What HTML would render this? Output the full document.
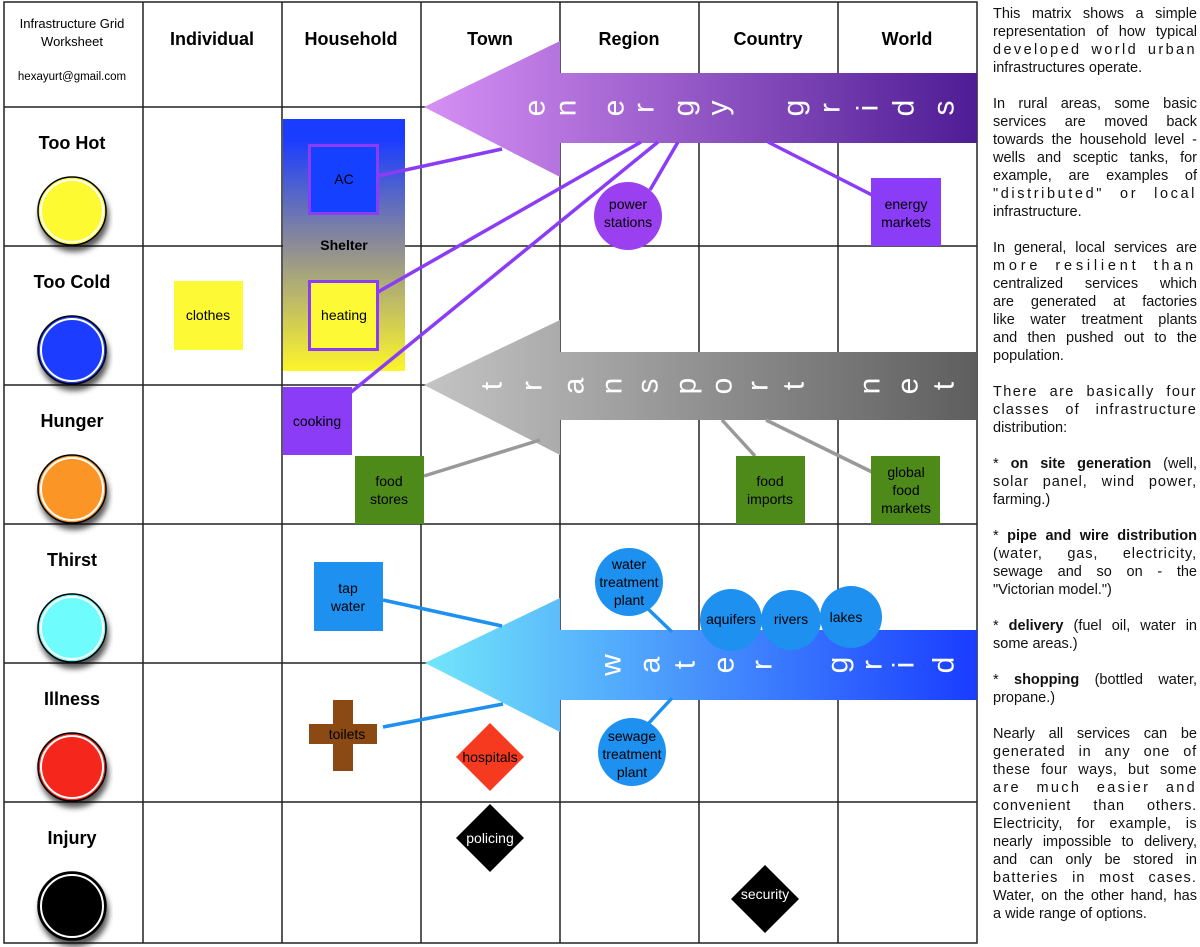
<!DOCTYPE html>
<html><head><meta charset="utf-8"><style>
body{margin:0;width:1200px;height:947px;background:#fff;overflow:hidden;position:relative;font-family:"Liberation Sans",Arial,sans-serif}
svg{position:absolute;left:0;top:0}
#txt{position:absolute;left:993px;top:5px;width:204px;font-size:14.5px;line-height:18px;color:#111}
#txt div{text-align:justify;text-align-last:justify;white-space:nowrap;height:18px}
#txt div.l{text-align-last:left}
#txt .g{height:18px}
</style></head><body>
<svg width="1200" height="947" viewBox="0 0 1200 947" font-family="Liberation Sans, Arial, sans-serif">
<defs>
<linearGradient id="eg" x1="0" x2="1"><stop offset="0" stop-color="#d690f5"/><stop offset="1" stop-color="#4e1c94"/></linearGradient>
<linearGradient id="tg" x1="0" x2="1"><stop offset="0" stop-color="#c4c4c4"/><stop offset="1" stop-color="#5e5e5e"/></linearGradient>
<linearGradient id="wg" x1="0" x2="1"><stop offset="0" stop-color="#72e6fa"/><stop offset="1" stop-color="#1a3cff"/></linearGradient>
<linearGradient id="sg" x1="0" y1="0" x2="0" y2="1"><stop offset="0.08" stop-color="#1a3cff"/><stop offset="0.5" stop-color="#8c8c96"/><stop offset="1" stop-color="#fcf52a"/></linearGradient>
<filter id="sh"><feDropShadow dx="2" dy="6" stdDeviation="3" flood-color="#000" flood-opacity="0.65"/></filter>
</defs>
<g stroke="#222" stroke-width="1.5" fill="none">
<rect x="4" y="2" width="973" height="941"/>
<line x1="143" y1="2" x2="143" y2="943"/><line x1="282" y1="2" x2="282" y2="943"/><line x1="421" y1="2" x2="421" y2="943"/><line x1="560" y1="2" x2="560" y2="943"/><line x1="699" y1="2" x2="699" y2="943"/><line x1="838" y1="2" x2="838" y2="943"/>
<line x1="4" y1="107" x2="977" y2="107"/><line x1="4" y1="246" x2="977" y2="246"/><line x1="4" y1="385" x2="977" y2="385"/><line x1="4" y1="524" x2="977" y2="524"/><line x1="4" y1="663" x2="977" y2="663"/><line x1="4" y1="802" x2="977" y2="802"/>
</g>
<g text-anchor="middle" font-weight="bold" font-size="18" fill="#000">
<text x="212" y="45">Individual</text><text x="351" y="45">Household</text><text x="490" y="45">Town</text><text x="629" y="45">Region</text><text x="768" y="45">Country</text><text x="907" y="45">World</text>
<text x="72" y="149">Too Hot</text><text x="72" y="288">Too Cold</text><text x="72" y="427">Hunger</text><text x="72" y="566">Thirst</text><text x="72" y="705">Illness</text><text x="72" y="844">Injury</text>
</g>
<g text-anchor="middle" font-size="13"><text x="72" y="28">Infrastructure Grid</text><text x="72" y="46">Worksheet</text><text x="72" y="80" font-size="11.5">hexayurt@gmail.com</text></g>
<g stroke="#000" stroke-width="1.5" filter="url(#sh)">
<circle cx="72" cy="211" r="34" fill="#fdfa30"/><circle cx="72" cy="350" r="34" fill="#1a3cff"/><circle cx="72" cy="489" r="34" fill="#fb9528"/><circle cx="72" cy="628" r="34" fill="#6efcfc"/><circle cx="72" cy="767" r="34" fill="#f5271a"/><circle cx="72" cy="906" r="34" fill="#000"/>
</g>
<g fill="none" stroke="#fff" stroke-width="2"><circle cx="72" cy="211" r="31"/><circle cx="72" cy="350" r="31"/><circle cx="72" cy="489" r="31"/><circle cx="72" cy="628" r="31"/><circle cx="72" cy="767" r="31"/><circle cx="72" cy="906" r="31"/></g>
<rect x="283" y="119" width="122" height="252" fill="url(#sg)"/>
<text x="344" y="250" text-anchor="middle" font-weight="bold" font-size="14">Shelter</text>
<rect x="174" y="281" width="69" height="69" fill="#fdf935"/>
<text x="208" y="320" text-anchor="middle" font-size="14">clothes</text>
<polygon points="424,107 560,41 560,73 977,73 977,143 560,143 560,177" fill="url(#eg)"/>
<polygon points="424,385 560,320 560,352 977,352 977,420 560,420 560,455" fill="url(#tg)"/>
<polygon points="425,663 560,598 560,630 977,630 977,700 560,700 560,732" fill="url(#wg)"/>
<g stroke="#8b3cf7" stroke-width="3.5">
<line x1="378" y1="176" x2="502" y2="149"/><line x1="378" y1="292" x2="641" y2="142"/><line x1="350" y1="393" x2="658" y2="142"/><line x1="650" y1="190" x2="678" y2="142"/><line x1="872" y1="195" x2="768" y2="142"/>
</g>
<g stroke="#999" stroke-width="3.5">
<line x1="424" y1="476" x2="540" y2="440"/><line x1="755" y1="456" x2="722" y2="420"/><line x1="872" y1="472" x2="766" y2="420"/>
</g>
<g stroke="#1e90f0" stroke-width="3.5">
<line x1="383" y1="600" x2="502" y2="626"/><line x1="383" y1="727" x2="503" y2="704"/><line x1="645" y1="606" x2="672" y2="632"/><line x1="648" y1="724" x2="672" y2="698"/>
</g>
<g fill="#fff" font-size="30" text-anchor="middle" dominant-baseline="central">
<text transform="translate(535,108) rotate(-90)">e</text><text transform="translate(566,108) rotate(-90)">n</text><text transform="translate(614,108) rotate(-90)">e</text><text transform="translate(644,108) rotate(-90)">r</text><text transform="translate(684,108) rotate(-90)">g</text><text transform="translate(718,108) rotate(-90)">y</text><text transform="translate(794,108) rotate(-90)">g</text><text transform="translate(830,108) rotate(-90)">r</text><text transform="translate(868,108) rotate(-90)">i</text><text transform="translate(904,108) rotate(-90)">d</text><text transform="translate(944,108) rotate(-90)">s</text>
<text transform="translate(492,386) rotate(-90)">t</text><text transform="translate(532,386) rotate(-90)">r</text><text transform="translate(574,386) rotate(-90)">a</text><text transform="translate(612,386) rotate(-90)">n</text><text transform="translate(648,386) rotate(-90)">s</text><text transform="translate(686,386) rotate(-90)">p</text><text transform="translate(722,386) rotate(-90)">o</text><text transform="translate(758,386) rotate(-90)">r</text><text transform="translate(794,386) rotate(-90)">t</text><text transform="translate(870,386) rotate(-90)">n</text><text transform="translate(908,386) rotate(-90)">e</text><text transform="translate(944,386) rotate(-90)">t</text>
<text transform="translate(611,665) rotate(-90)">w</text><text transform="translate(650,665) rotate(-90)">a</text><text transform="translate(685,665) rotate(-90)">t</text><text transform="translate(724,665) rotate(-90)">e</text><text transform="translate(762,665) rotate(-90)">r</text><text transform="translate(838,665) rotate(-90)">g</text><text transform="translate(872,665) rotate(-90)">r</text><text transform="translate(904,665) rotate(-90)">i</text><text transform="translate(944,665) rotate(-90)">d</text>
</g>
<rect x="309.5" y="145.5" width="68" height="68" fill="#1540ff" stroke="#8b3cf7" stroke-width="3"/>
<text x="344" y="184" text-anchor="middle" font-size="14">AC</text>
<rect x="309.5" y="281.5" width="68" height="68" fill="#fdf935" stroke="#8b3cf7" stroke-width="3"/>
<text x="344" y="320" text-anchor="middle" font-size="14">heating</text>
<rect x="283" y="387" width="69" height="68" fill="#8b3cf7"/>
<text x="317" y="426" text-anchor="middle" font-size="14">cooking</text>
<g fill="#4d8a19"><rect x="355" y="456" width="69" height="68"/><rect x="736" y="456" width="69" height="68"/><rect x="871" y="456" width="69" height="68"/></g>
<g text-anchor="middle" font-size="14">
<text x="389" y="486">food</text><text x="389" y="504">stores</text>
<text x="770" y="486">food</text><text x="770" y="504">imports</text>
<text x="906" y="477">global</text><text x="906" y="495">food</text><text x="906" y="513">markets</text>
</g>
<circle cx="628" cy="216" r="34" fill="#9b40f0"/>
<text x="628" y="209" text-anchor="middle" font-size="14">power</text><text x="628" y="227" text-anchor="middle" font-size="14">stations</text>
<rect x="871" y="178" width="70" height="68" fill="#8b3cf7"/>
<text x="906" y="209" text-anchor="middle" font-size="14">energy</text><text x="906" y="227" text-anchor="middle" font-size="14">markets</text>
<rect x="314" y="562" width="69" height="69" fill="#1e90f0"/>
<text x="348" y="593" text-anchor="middle" font-size="14">tap</text><text x="348" y="611" text-anchor="middle" font-size="14">water</text>
<g fill="#1e90f0"><circle cx="629" cy="582" r="34"/><circle cx="731" cy="620" r="31"/><circle cx="791" cy="620" r="30"/><circle cx="851" cy="617" r="31"/><circle cx="632" cy="752" r="34"/></g>
<g text-anchor="middle" font-size="14">
<text x="629" y="569">water</text><text x="629" y="587">treatment</text><text x="629" y="605">plant</text>
<text x="731" y="624">aquifers</text><text x="791" y="624">rivers</text><text x="846" y="622">lakes</text>
<text x="632" y="741">sewage</text><text x="632" y="759">treatment</text><text x="632" y="777">plant</text>
</g>
<path d="M333,700h20v24h24v20h-24v27h-20v-27h-24v-20h24z" fill="#8b4a14"/>
<text x="347" y="739" text-anchor="middle" font-size="14">toilets</text>
<polygon points="490,723 524,757 490,791 456,757" fill="#f53a20"/>
<text x="490" y="762" text-anchor="middle" font-size="14">hospitals</text>
<polygon points="490,804 524,838 490,872 456,838" fill="#000"/>
<text x="490" y="843" text-anchor="middle" font-size="14" fill="#fff">policing</text>
<polygon points="765,865 799,899 765,933 731,899" fill="#000"/>
<text x="765" y="899" text-anchor="middle" font-size="14" fill="#fff">security</text>
</svg>
<div id="txt">
<div>This matrix shows a simple</div><div>representation of how typical</div><div style="letter-spacing:2.4px">developed world urban</div><div class="l">infrastructures operate.</div><div class="g"></div>
<div>In rural areas, some basic</div><div>services are moved back</div><div>towards the household level -</div><div>wells and sceptic tanks, for</div><div>example, are examples of</div><div style="letter-spacing:2.6px">"distributed" or local</div><div class="l">infrastructure.</div><div class="g"></div>
<div>In general, local services are</div><div style="letter-spacing:3.8px">more resilient than</div><div>centralized services which</div><div>are generated at factories</div><div>like water treatment plants</div><div>and then pushed out to the</div><div class="l">population.</div><div class="g"></div>
<div style="letter-spacing:1.4px">There are basically four</div><div style="letter-spacing:1.2px">classes of infrastructure</div><div class="l">distribution:</div><div class="g"></div>
<div>* <b>on site generation</b> (well,</div><div style="letter-spacing:0.9px">solar panel, wind power,</div><div class="l">farming.)</div><div class="g"></div>
<div>* <b>pipe and wire distribution</b></div><div style="letter-spacing:0.9px">(water, gas, electricity,</div><div>sewage and so on - the</div><div class="l">"Victorian model.")</div><div class="g"></div>
<div>* <b>delivery</b> (fuel oil, water in</div><div class="l">some areas.)</div><div class="g"></div>
<div>* <b>shopping</b> (bottled water,</div><div class="l">propane.)</div><div class="g"></div>
<div>Nearly all services can be</div><div style="letter-spacing:0.8px">generated in any one of</div><div style="letter-spacing:0.4px">these four ways, but some</div><div style="letter-spacing:2.3px">are much easier and</div><div style="letter-spacing:0.8px">convenient than others.</div><div style="letter-spacing:0.4px">Electricity, for example, is</div><div>nearly impossible to delivery,</div><div>and can only be stored in</div><div style="letter-spacing:1.1px">batteries in most cases.</div><div>Water, on the other hand, has</div><div class="l">a wide range of options.</div>
</div>
</body></html>
